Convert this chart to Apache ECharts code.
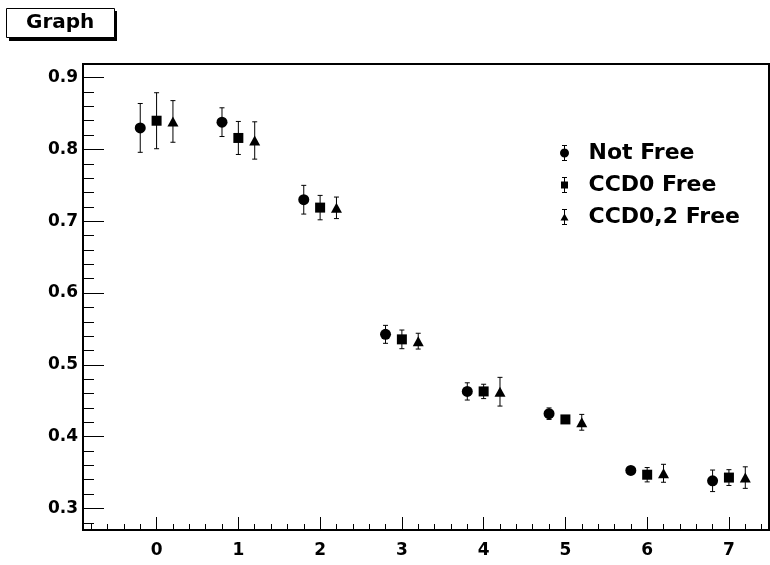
<!DOCTYPE html>
<html>
<head>
<meta charset="utf-8">
<script src="https://cdn.jsdelivr.net/npm/echarts@6/dist/echarts.min.js"></script>
<style>
html,body{margin:0;padding:0;background:#fff;}
#chart{width:770px;height:565px;}
</style>
</head>
<body>
<div id="chart"></div>
<script>
// ---- data ----
const groups = [0, 1, 2, 3, 4, 5, 6, 7];
const seriesNames = ['Not Free', 'CCD0 Free', 'CCD0,2 Free'];
const xOffsets = [-0.2, 0, 0.2];
const notFree    = [0.830, 0.838, 0.730, 0.5425, 0.463, 0.432, 0.353, 0.3385];
const notFreeErr = [0.034, 0.020, 0.020, 0.0125, 0.012, 0.008, 0.004, 0.015];
const ccd0       = [0.840, 0.816, 0.719, 0.5355, 0.463, 0.424, 0.347, 0.343];
const ccd0Err    = [0.039, 0.023, 0.017, 0.013, 0.010, 0.004, 0.010, 0.011];
const ccd02      = [0.839, 0.8125, 0.7187, 0.533, 0.4626, 0.420, 0.349, 0.343];
const ccd02Err   = [0.029, 0.026, 0.015, 0.011, 0.020, 0.011, 0.0125, 0.015];
const xTicks = [0, 1, 2, 3, 4, 5, 6, 7];
const yTicks = [0.3, 0.4, 0.5, 0.6, 0.7, 0.8, 0.9];
const xRange = [-0.9, 7.49];
const yRange = [0.27, 0.919];

function minorValues(lo, hi, step) {
  const out = [];
  const start = Math.ceil(lo / step - 1e-9);
  for (let k = start; k * step <= hi + 1e-9; k++) out.push(+(k * step).toFixed(4));
  return out;
}
const xMinor = minorValues(xRange[0], xRange[1], 0.2);
const yMinor = minorValues(yRange[0], yRange[1], 0.02);

const allVals = [notFree, ccd0, ccd02];
const allErrs = [notFreeErr, ccd0Err, ccd02Err];
const symbols = ['circle', 'rect', 'triangle'];
const symbolSizes = [11, 10, [11, 10]];

const FONT = 'DejaVu Sans';

const iconCircle = 'path://M0.5,8A4.5,4.5,0,1,1,9.5,8A4.5,4.5,0,1,1,0.5,8Z M4.5,1H5.5V15H4.5Z M2.5,0H7.5V1H2.5Z M2.5,15H7.5V16H2.5Z';
const iconSquare = 'path://M1.5,4.5H8.5V11.5H1.5Z M4.5,1H5.5V15H4.5Z M2.5,0H7.5V1H2.5Z M2.5,15H7.5V16H2.5Z';
const iconTri    = 'path://M5,4.5L9,11.5H1Z M4.5,1H5.5V15H4.5Z M2.5,0H7.5V1H2.5Z M2.5,15H7.5V16H2.5Z';
const icons = [iconCircle, iconSquare, iconTri];

const series = [];
allVals.forEach((vals, s) => {
  const pts = groups.map((g, i) => [g + xOffsets[s], vals[i], allErrs[s][i]]);
  series.push({
    type: 'custom',
    name: seriesNames[s] + ' err',
    xAxisIndex: 0, yAxisIndex: 0,
    data: pts,
    z: 2,
    silent: true,
    renderItem: function (params, api) {
      const x = api.value(0), y = api.value(1), e = api.value(2);
      const top = api.coord([x, y + e]);
      const bot = api.coord([x, y - e]);
      const c = 2.5;
      const st = { stroke: '#000', lineWidth: 1 };
      return {
        type: 'group',
        children: [
          { type: 'line', shape: { x1: top[0], y1: top[1], x2: bot[0], y2: bot[1] }, style: st },
          { type: 'line', shape: { x1: top[0] - c, y1: top[1], x2: top[0] + c, y2: top[1] }, style: st },
          { type: 'line', shape: { x1: bot[0] - c, y1: bot[1], x2: bot[0] + c, y2: bot[1] }, style: st }
        ]
      };
    }
  });
  series.push({
    type: 'scatter',
    name: seriesNames[s],
    xAxisIndex: 0, yAxisIndex: 0,
    data: pts.map(p => [p[0], p[1]]),
    symbol: symbols[s],
    symbolSize: symbolSizes[s],
    itemStyle: { color: '#000', opacity: 1 },
    z: 3,
    silent: true
  });
});

const chart = echarts.init(document.getElementById('chart'), null, { renderer: 'canvas' });
chart.setOption({
  animation: false,
  backgroundColor: '#fff',
  graphic: [{
    type: 'rect', z: 0, silent: true,
    shape: { x: 9, y: 11, width: 108, height: 30 },
    style: { fill: '#000' }
  }],
  title: {
    text: 'Graph',
    left: 6, top: 8,
    z: 10,
    padding: [3, 20, 3, 20],
    backgroundColor: '#fff',
    borderColor: '#000',
    borderWidth: 1,
    textStyle: { fontFamily: FONT, fontWeight: 'bold', fontSize: 20, color: '#000', lineHeight: 24 }
  },
  legend: {
    orient: 'vertical',
    left: 555, top: 137,
    itemWidth: 10, itemHeight: 16,
    itemGap: 10,
    symbolKeepAspect: true,
    data: seriesNames.map((n, i) => ({ name: n, icon: icons[i] })),
    textStyle: { fontFamily: FONT, fontWeight: 'bold', fontSize: 22, color: '#000', lineHeight: 22, padding: [0, 0, 0, 14] },
    itemStyle: { color: '#000' },
    selectedMode: false
  },
  grid: {
    left: 83, right: 1, top: 64, bottom: 35,
    show: true, borderColor: '#000', borderWidth: 2
  },
  xAxis: [{
    type: 'value', position: 'bottom',
    min: xRange[0], max: xRange[1],
    axisLine: { show: true, onZero: false, lineStyle: { color: '#000', width: 2 } },
    axisTick: { show: true, inside: true, length: 13, customValues: xTicks, lineStyle: { color: '#000', width: 1 } },
    axisLabel: { show: true, customValues: xTicks, margin: 12, fontFamily: FONT, fontWeight: 'bold', fontSize: 17, color: '#000' },
    splitLine: { show: false }
  }, {
    type: 'value', position: 'bottom',
    min: xRange[0], max: xRange[1],
    axisLine: { show: false, onZero: false },
    axisTick: { show: true, inside: true, length: 6, customValues: xMinor, lineStyle: { color: '#000', width: 1 } },
    axisLabel: { show: false },
    splitLine: { show: false }
  }],
  yAxis: [{
    type: 'value', position: 'left',
    min: yRange[0], max: yRange[1],
    axisLine: { show: true, onZero: false, lineStyle: { color: '#000', width: 2 } },
    axisTick: { show: true, inside: true, length: 21, customValues: yTicks, lineStyle: { color: '#000', width: 1 } },
    axisLabel: { show: true, customValues: yTicks, margin: 5, fontFamily: FONT, fontWeight: 'bold', fontSize: 17, color: '#000',
      formatter: v => v.toFixed(1) },
    splitLine: { show: false }
  }, {
    type: 'value', position: 'left',
    min: yRange[0], max: yRange[1],
    axisLine: { show: false, onZero: false },
    axisTick: { show: true, inside: true, length: 11, customValues: yMinor, lineStyle: { color: '#000', width: 1 } },
    axisLabel: { show: false },
    splitLine: { show: false }
  }],
  series: series
});
</script>
</body>
</html>
